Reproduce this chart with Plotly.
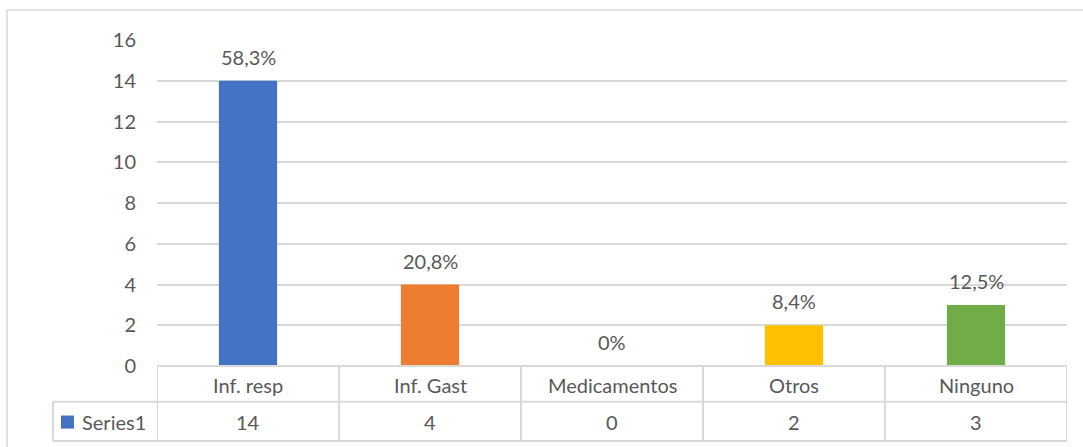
import plotly.graph_objects as go

categories = ["Inf. resp", "Inf. Gast", "Medicamentos", "Otros", "Ninguno"]
counts = [14, 4, 0, 2, 3]
pct_labels = ["58,3%", "20,8%", "0%", "8,4%", "12,5%"]
bar_colors = ["#4472C4", "#ED7D31", "#A5A5A5", "#FFC000", "#70AD47"]
series_name = "Series1"

FONT = "Lato"
FS = 20
TXT = "#595959"
GRID = "#D9D9D9"

fig = go.Figure(
    go.Bar(
        x=categories,
        y=counts,
        marker=dict(color=bar_colors, line=dict(width=0)),
        width=0.32,
        showlegend=False,
        hoverinfo="skip",
    )
)

# percent labels above bars
for cat, val, lab in zip(categories, counts, pct_labels):
    fig.add_annotation(
        x=cat, y=val, text=lab, showarrow=False, xanchor="center",
        yanchor="middle", yshift=24,
        font=dict(family=FONT, size=FS, color=TXT),
    )

# data table under the plot
row1_bottom = -0.110
row2_bottom = -0.230
left_cell = -0.1143
line = dict(color=GRID, width=2)
n = len(categories)
for i in range(n + 1):
    fig.add_shape(type="line", xref="x", yref="paper", x0=i - 0.5, x1=i - 0.5,
                  y0=0, y1=row2_bottom, line=line)
fig.add_shape(type="line", xref="x", yref="paper", x0=-0.5, x1=n - 0.5,
              y0=0, y1=0, line=line)
for yy in (row1_bottom, row2_bottom):
    fig.add_shape(type="line", xref="paper", yref="paper", x0=left_cell, x1=1,
                  y0=yy, y1=yy, line=line)
fig.add_shape(type="line", xref="paper", yref="paper", x0=left_cell, x1=left_cell,
              y0=row1_bottom, y1=row2_bottom, line=line)

for cat, val in zip(categories, counts):
    fig.add_annotation(x=cat, y=-0.058, xref="x", yref="paper", text=cat,
                       xanchor="center", yanchor="middle", showarrow=False,
                       font=dict(family=FONT, size=FS, color=TXT))
    fig.add_annotation(x=cat, y=-0.172, xref="x", yref="paper", text=str(val),
                       xanchor="center", yanchor="middle", showarrow=False,
                       font=dict(family=FONT, size=FS, color=TXT))

# legend key in table
fig.add_shape(type="rect", xref="paper", yref="paper", x0=-0.1055, x1=-0.0912,
              y0=-0.152, y1=-0.192, fillcolor=bar_colors[0], line=dict(width=0))
fig.add_annotation(x=-0.0846, y=-0.172, xref="paper", yref="paper", text=series_name,
                   xanchor="left", yanchor="middle", showarrow=False,
                   font=dict(family=FONT, size=FS, color=TXT))

# outer chart border
fig.add_shape(type="rect", xref="paper", yref="paper", x0=-0.1648, x1=1.05,
              y0=1.092, y1=-0.5, line=dict(color=GRID, width=1.5))

fig.update_layout(
    width=1083,
    height=447,
    margin=dict(l=157, r=16, t=40, b=81, autoexpand=False),
    plot_bgcolor="white",
    paper_bgcolor="white",
    font=dict(family=FONT, size=FS, color=TXT),
    bargap=0.68,
    xaxis=dict(showticklabels=False, showgrid=False, zeroline=False,
               showline=False, range=[-0.5, n - 0.5]),
    yaxis=dict(range=[0, 16], dtick=2, showgrid=True, gridcolor=GRID, gridwidth=1.5,
               zeroline=False, showline=False, ticks="", ticklabelstandoff=20),
)

# page body has a default 8px margin; drop it so the figure sits at 0,0
fig.write_html(
    "out.html",
    config={"displayModeBar": False},
    post_script="document.body.style.margin='0';",
)
